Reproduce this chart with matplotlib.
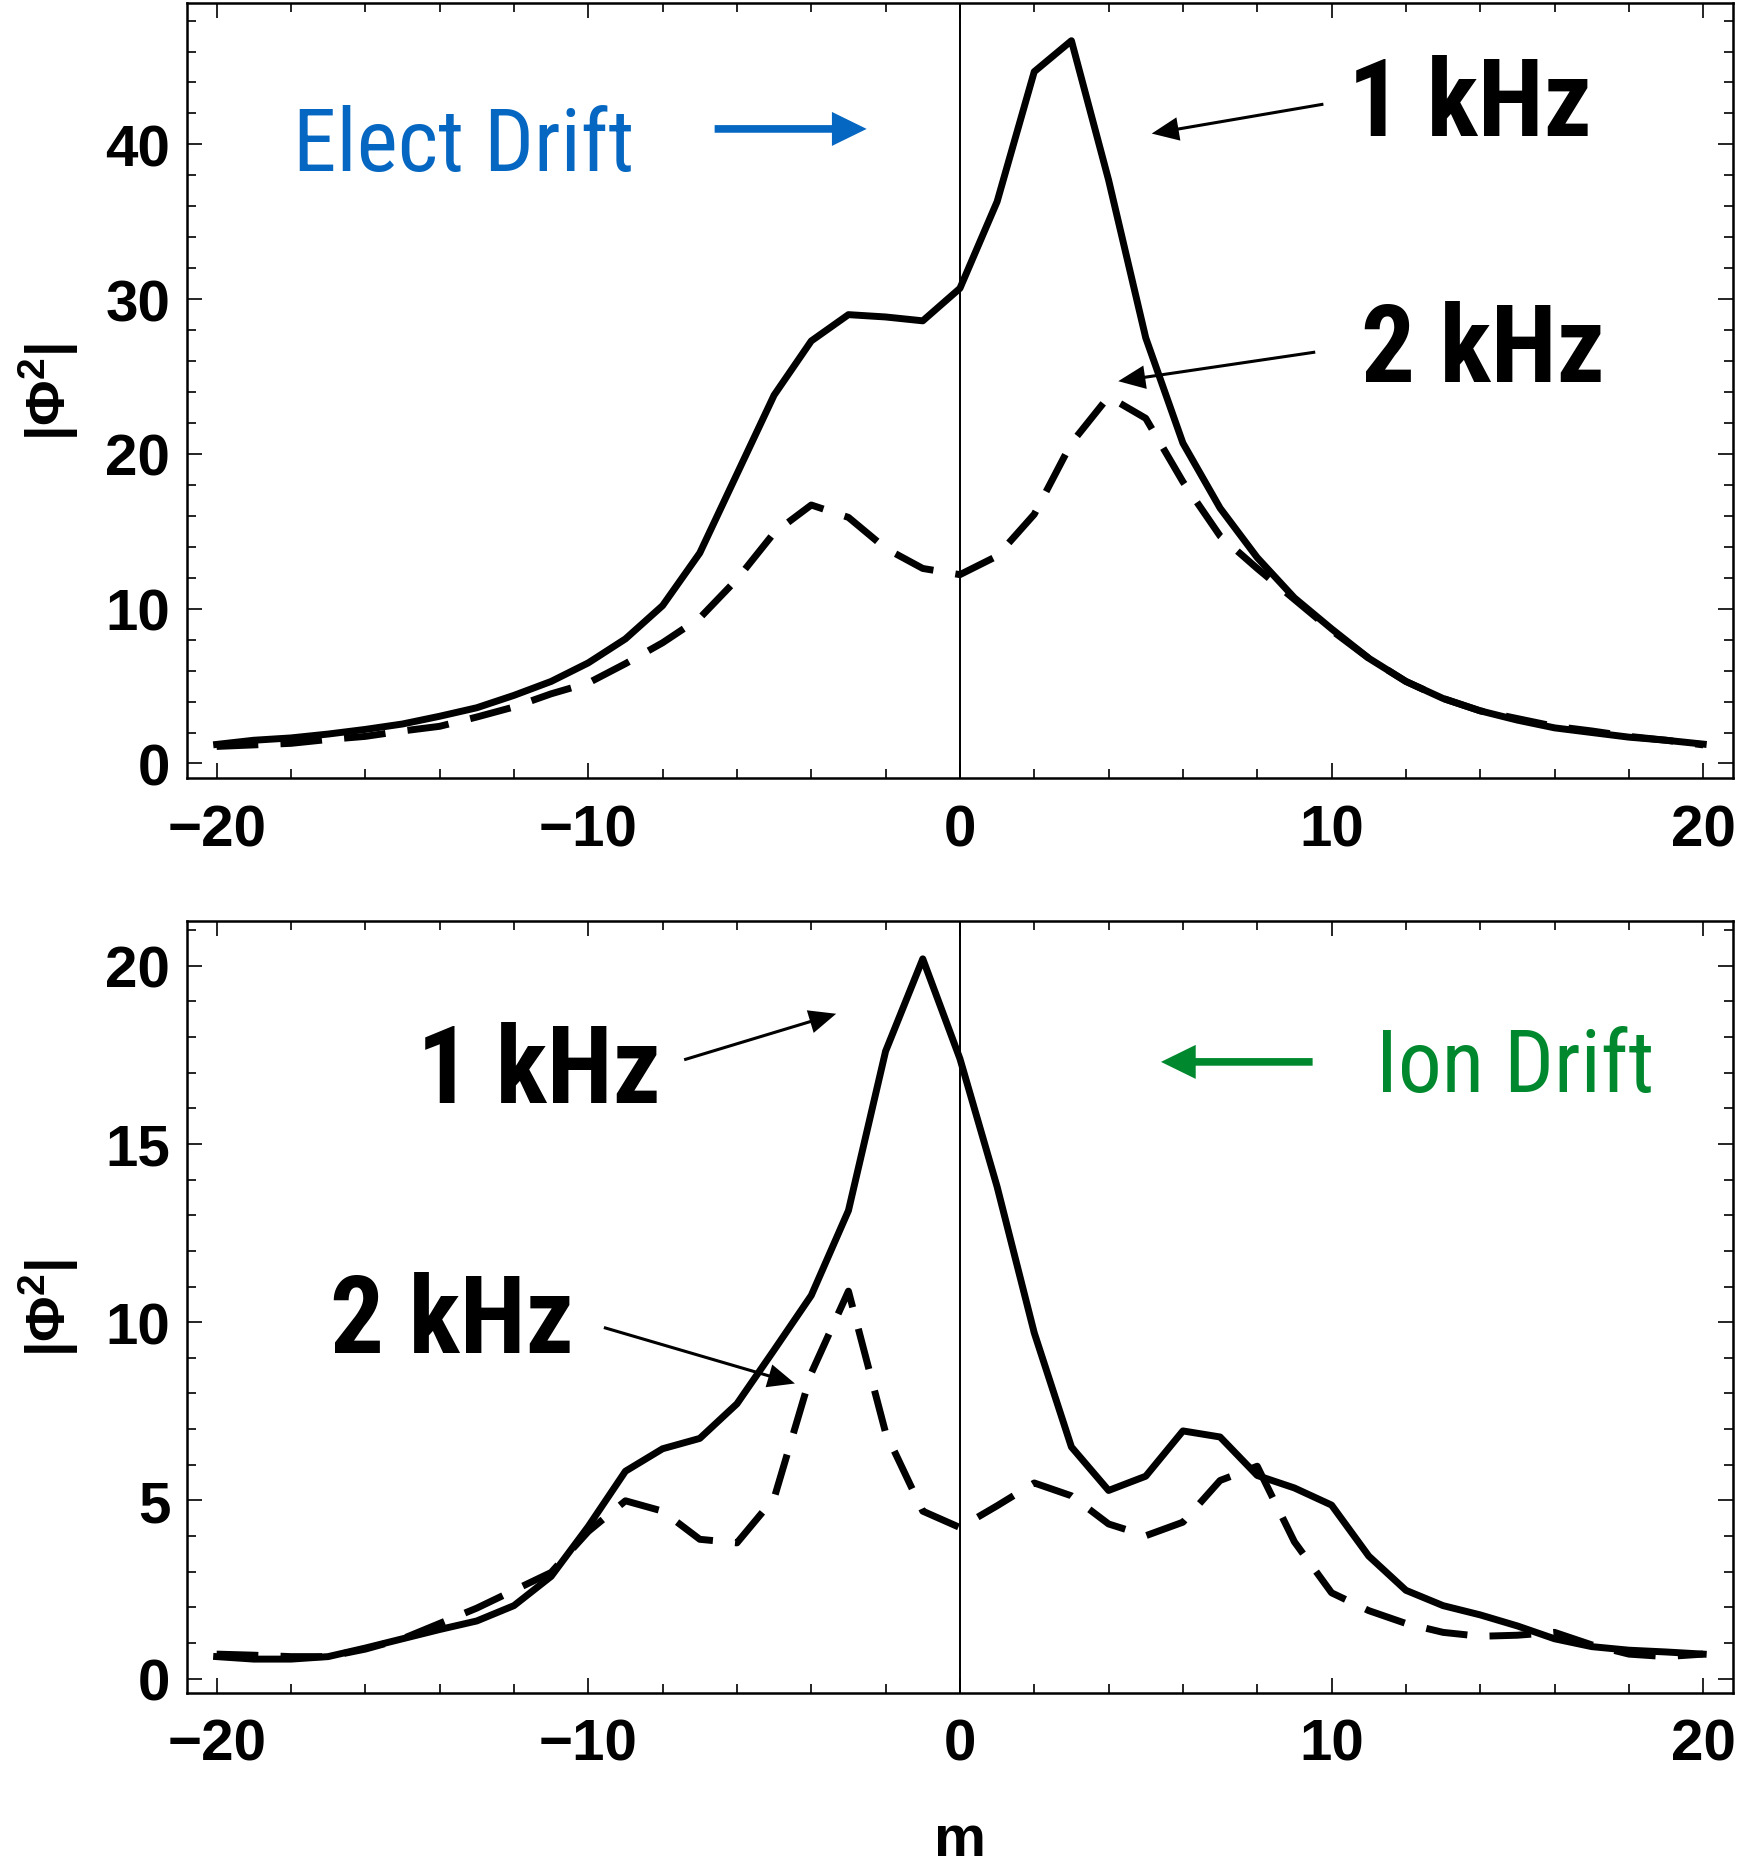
import numpy as np
import matplotlib
matplotlib.use('Agg')
import matplotlib.pyplot as plt
from matplotlib import font_manager as fm
from matplotlib.ticker import MultipleLocator

plt.rcParams['font.family'] = ['Liberation Sans', 'DejaVu Sans']
plt.rcParams['font.weight'] = 'bold'
plt.rcParams['mathtext.fontset'] = 'custom'
plt.rcParams['mathtext.rm'] = 'Liberation Sans:bold'
plt.rcParams['mathtext.bf'] = 'Liberation Sans:bold'
plt.rcParams['mathtext.it'] = 'Liberation Sans:bold'

# mode number
m = np.arange(-20, 21)

# |phi^2| spectra, electron-drift case (top panel)
elec_1khz = [1.23, 1.5, 1.65, 1.9, 2.2, 2.55, 3.05, 3.6, 4.4, 5.3,
             6.5, 8.05, 10.2, 13.6, 18.7, 23.8, 27.3, 29.0, 28.85, 28.6,
             30.7, 36.3, 44.7, 46.7, 37.7, 27.5, 20.7, 16.5, 13.3, 10.7,
             8.7, 6.8, 5.3, 4.2, 3.4, 2.8, 2.3, 2.0, 1.7, 1.5, 1.25]
elec_2khz = [1.1, 1.2, 1.3, 1.55, 1.75, 2.1, 2.4, 3.0, 3.65, 4.5,
             5.2, 6.45, 7.8, 9.4, 11.9, 14.9, 16.7, 15.9, 13.9, 12.6,
             12.2, 13.4, 16.1, 20.7, 23.7, 22.3, 18.2, 14.7, 12.6, 10.6,
             8.6, 6.8, 5.3, 4.2, 3.4, 2.9, 2.4, 2.1, 1.75, 1.5, 1.2]

# ion-drift case (bottom panel)
ion_1khz = [0.62, 0.55, 0.55, 0.62, 0.86, 1.12, 1.38, 1.62, 2.05, 2.87,
            4.27, 5.82, 6.45, 6.74, 7.71, 9.22, 10.75, 13.13, 17.6, 20.19,
            17.39, 13.8, 9.7, 6.5, 5.28, 5.68, 6.95, 6.78, 5.7, 5.35,
            4.87, 3.44, 2.48, 2.05, 1.79, 1.48, 1.12, 0.9, 0.8, 0.75, 0.69]
ion_2khz = [0.69, 0.66, 0.62, 0.62, 0.83, 1.12, 1.55, 1.98, 2.48, 2.98,
            4.13, 4.99, 4.7, 3.91, 3.81, 5.06, 8.57, 10.87, 6.9, 4.7,
            4.24, 4.85, 5.49, 5.13, 4.34, 4.01, 4.39, 5.56, 5.96, 3.84,
            2.41, 1.91, 1.55, 1.30, 1.19, 1.22, 1.30, 0.95, 0.69, 0.62, 0.69]

BLUE = '#0567c1'
GREEN = '#00882e'
LW = 5.0
DASH = (6.0, 3.2)


def narrow_font():
    # look for a condensed sans face; fall back to plain Liberation Sans
    names = {f.name for f in fm.fontManager.ttflist}
    for fam in ['Liberation Sans Narrow', 'Arial Narrow', 'Roboto Condensed',
                'Open Sans Condensed', 'DejaVu Sans Condensed']:
        if fam in names:
            return fam, 'normal', True
    for f in fm.fontManager.ttflist:
        if 'condensed' in str(f.stretch) and f.name in ('Roboto', 'Open Sans', 'Noto Sans', 'DejaVu Sans'):
            return f.name, f.stretch, True
    return 'Liberation Sans', 'normal', False


NFAM, NSTRETCH, IS_NARROW = narrow_font()
BIG = 77 if IS_NARROW else 68      # "1 kHz" labels
MID = 63 if IS_NARROW else 56      # drift labels

fig = plt.figure(figsize=(17.42, 18.65), dpi=100)
ax1 = fig.add_axes([0.1073, 0.5823, 0.8875, 0.4155])
ax2 = fig.add_axes([0.1073, 0.0917, 0.8875, 0.4139])


def style(ax, ylim, ymajor, yminor):
    ax.set_xlim(-20.8, 20.8)
    ax.set_ylim(*ylim)
    ax.xaxis.set_major_locator(MultipleLocator(10))
    ax.xaxis.set_minor_locator(MultipleLocator(2))
    ax.yaxis.set_major_locator(MultipleLocator(ymajor))
    ax.yaxis.set_minor_locator(MultipleLocator(yminor))
    ax.tick_params(which='both', direction='in', top=True, right=True, width=1.2)
    ax.tick_params(which='major', length=11)
    ax.tick_params(which='minor', length=6.5)
    ax.tick_params(axis='x', labelsize=42, pad=18)
    ax.tick_params(axis='y', labelsize=42, pad=12)
    for s in ax.spines.values():
        s.set_linewidth(1.8)
    ax.axvline(0, color='black', lw=1.4, zorder=1)
    ax.set_ylabel(r'$|\Phi^{2}|$', fontsize=40)
    ax.yaxis.set_label_coords(-0.0686, 0.5)


def arrow(ax, start, tip, color, big=False):
    if big:
        st = 'simple,head_length=2.5,head_width=2.45,tail_width=0.55'
    else:
        st = 'simple,head_length=1.95,head_width=1.7,tail_width=0.22'
    ax.annotate('', xy=tip, xytext=start,
                arrowprops=dict(arrowstyle=st, mutation_scale=10, lw=0,
                                color=color, shrinkA=0, shrinkB=0))


def label(ax, x, y, s, size, weight, color='black'):
    ax.text(x, y, s, fontsize=size, family=NFAM, stretch=NSTRETCH,
            weight=weight, color=color, ha='left', va='baseline')


# top panel
style(ax1, (-0.94, 49.13), 10, 2)
ax1.plot(m, elec_1khz, color='black', lw=LW, zorder=3)
ax1.plot(m, elec_2khz, color='black', lw=LW, dashes=DASH, zorder=3)
label(ax1, -17.95, 38.35, 'Elect Drift', MID, 'normal', BLUE)
arrow(ax1, (-6.6, 41.0), (-2.51, 41.0), BLUE, big=True)
label(ax1, 10.45, 40.6, '1 kHz', BIG, 'bold')
arrow(ax1, (9.78, 42.6), (5.16, 40.7), 'black')
label(ax1, 10.78, 24.7, '2 kHz', BIG, 'bold')
arrow(ax1, (9.56, 26.58), (4.26, 24.7), 'black')

# bottom panel
style(ax2, (-0.4, 21.25), 5, 1)
ax2.plot(m, ion_1khz, color='black', lw=LW, zorder=3)
ax2.plot(m, ion_2khz, color='black', lw=LW, dashes=DASH, zorder=3)
label(ax2, 11.2, 16.49, 'Ion Drift', MID, 'normal', GREEN)
arrow(ax2, (9.49, 17.3), (5.41, 17.3), GREEN, big=True)
label(ax2, -14.6, 16.18, '1 kHz', BIG, 'bold')
arrow(ax2, (-7.42, 17.36), (-3.33, 18.65), 'black')
label(ax2, -16.95, 9.16, '2 kHz', BIG, 'bold')
arrow(ax2, (-9.58, 9.85), (-4.44, 8.28), 'black')
ax2.set_xlabel('m', fontsize=42, fontweight='bold')
ax2.xaxis.set_label_coords(0.5, -0.156)

fig.savefig('out.png', dpi=100)
